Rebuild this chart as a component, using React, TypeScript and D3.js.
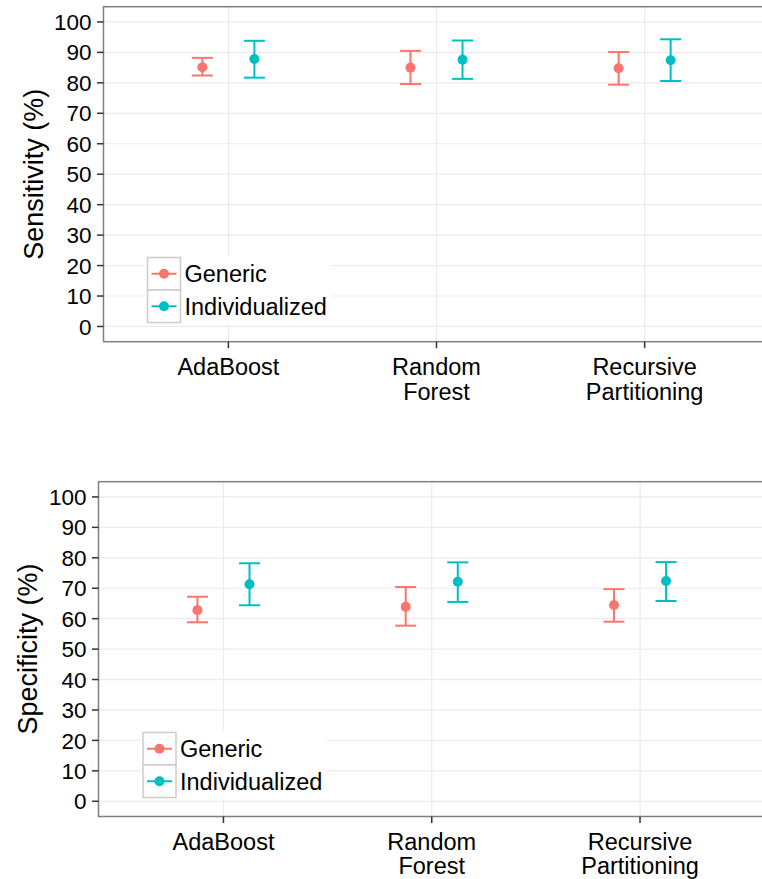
import React from "react";
import * as d3 from "d3";

// Classifiers compared on the x axis
const categories = ["AdaBoost", "Random Forest", "Recursive Partitioning"];
const categoryLines: string[][] = [["AdaBoost"], ["Random", "Forest"], ["Recursive", "Partitioning"]];
const groups = ["Generic", "Individualized"];
const groupColors = ["#F8766D", "#00BFC4"];
const yTicks = [0, 10, 20, 30, 40, 50, 60, 70, 80, 90, 100];

// Sensitivity (%): mean with lower / upper interval per classifier
const sensGenericMean = [85.1, 85.0, 84.8];
const sensGenericLow = [82.4, 79.6, 79.4];
const sensGenericHigh = [88.2, 90.5, 90.1];
const sensIndivMean = [87.8, 87.6, 87.4];
const sensIndivLow = [81.7, 81.3, 80.6];
const sensIndivHigh = [93.8, 93.9, 94.3];

// Specificity (%)
const specGenericMean = [62.8, 63.9, 64.5];
const specGenericLow = [58.8, 57.7, 59.0];
const specGenericHigh = [67.2, 70.4, 69.7];
const specIndivMean = [71.3, 72.1, 72.4];
const specIndivLow = [64.4, 65.5, 65.8];
const specIndivHigh = [78.2, 78.5, 78.6];

const FONT = "'Liberation Sans', Arial, Helvetica, sans-serif";

type Series = { mean: number[]; low: number[]; high: number[] };

interface PanelProps {
  left: number;
  right: number;
  top: number;
  bottom: number;
  title: string;
  titleX: number;
  legendX: number;
  legendY: number;
  series: Series[];
}

function Panel({ left, right, top, bottom, title, titleX, legendX, legendY, series }: PanelProps) {
  const x = d3.scalePoint<string>().domain(categories).range([left, right]).padding(0.6);
  const y = d3.scaleLinear().domain([-5, 105]).range([bottom, top]);
  const step = x.step();
  const dodge = d3.scaleBand<string>().domain(groups).range([-0.25 * step, 0.25 * step]);
  const capHalf = 10.5;
  const keyW = 33;
  const keyH = 32.5;

  return (
    <g>
      {/* panel grid */}
      {yTicks.map((t) => (
        <line key={"gy" + t} x1={left} x2={right} y1={y(t)} y2={y(t)} stroke="#EBEBEB" strokeWidth={1.2} />
      ))}
      {categories.map((c) => (
        <line key={"gx" + c} x1={x(c)} x2={x(c)} y1={top} y2={bottom} stroke="#EBEBEB" strokeWidth={1.2} />
      ))}

      {/* error bars and points */}
      {series.map((s, gi) =>
        categories.map((c, ci) => {
          const cx = (x(c) as number) + (dodge(groups[gi]) as number) + dodge.bandwidth() / 2;
          const col = groupColors[gi];
          return (
            <g key={gi + "-" + ci}>
              <line x1={cx} x2={cx} y1={y(s.low[ci])} y2={y(s.high[ci])} stroke={col} strokeWidth={2} />
              <line x1={cx - capHalf} x2={cx + capHalf} y1={y(s.low[ci])} y2={y(s.low[ci])} stroke={col} strokeWidth={2} />
              <line x1={cx - capHalf} x2={cx + capHalf} y1={y(s.high[ci])} y2={y(s.high[ci])} stroke={col} strokeWidth={2} />
              <circle cx={cx} cy={y(s.mean[ci])} r={5} fill={col} />
            </g>
          );
        })
      )}

      {/* legend */}
      <rect x={legendX - 2} y={legendY - 2} width={186} height={keyH * 2 + 4} fill="white" />
      {groups.map((g, gi) => {
        const ky = legendY + gi * keyH;
        return (
          <g key={"lg" + g}>
            <rect x={legendX} y={ky} width={keyW} height={keyH} fill="white" stroke="#CCCCCC" strokeWidth={1.5} />
            <line x1={legendX + 4} x2={legendX + keyW - 4} y1={ky + keyH / 2} y2={ky + keyH / 2} stroke={groupColors[gi]} strokeWidth={2} />
            <circle cx={legendX + keyW / 2} cy={ky + keyH / 2} r={5} fill={groupColors[gi]} />
            <text x={legendX + keyW + 4} y={ky + keyH / 2} dy="0.36em" fontSize={23.5} fontFamily={FONT} fill="black">
              {g}
            </text>
          </g>
        );
      })}

      {/* panel border */}
      <rect x={left} y={top} width={right - left} height={bottom - top} fill="none" stroke="#7F7F7F" strokeWidth={1.5} />

      {/* y axis */}
      {yTicks.map((t) => (
        <g key={"ty" + t}>
          <line x1={left - 6.5} x2={left} y1={y(t)} y2={y(t)} stroke="#333" strokeWidth={1.5} />
          <text x={left - 12} y={y(t)} dy="0.36em" textAnchor="end" fontSize={22.5} fontFamily={FONT} fill="black">
            {t}
          </text>
        </g>
      ))}
      <text
        transform={`translate(${titleX},${(top + bottom) / 2}) rotate(-90)`}
        textAnchor="middle"
        dy="0.36em"
        fontSize={27}
        fontFamily={FONT}
        fill="black"
      >
        {title}
      </text>

      {/* x axis */}
      {categories.map((c, ci) => (
        <g key={"tx" + c}>
          <line x1={x(c)} x2={x(c)} y1={bottom} y2={bottom + 6.5} stroke="#333" strokeWidth={1.5} />
          <text x={x(c)} y={bottom + 25} dy="0.36em" textAnchor="middle" fontSize={23.5} fontFamily={FONT} fill="black">
            {categoryLines[ci].map((ln, li) => (
              <tspan key={li} x={x(c)} dy={li === 0 ? "0.36em" : 24.5}>
                {ln}
              </tspan>
            ))}
          </text>
        </g>
      ))}
    </g>
  );
}

export default function App() {
  const sensSeries: Series[] = [
    { mean: sensGenericMean, low: sensGenericLow, high: sensGenericHigh },
    { mean: sensIndivMean, low: sensIndivLow, high: sensIndivHigh },
  ];
  const specSeries: Series[] = [
    { mean: specGenericMean, low: specGenericLow, high: specGenericHigh },
    { mean: specIndivMean, low: specIndivLow, high: specIndivHigh },
  ];
  return (
    <svg
      width={762}
      height={879}
      style={{ position: "absolute", left: 0, top: 0, background: "white" }}
      viewBox="0 0 762 879"
    >
      <rect x={0} y={0} width={762} height={879} fill="white" />
      <Panel
        left={103.5}
        right={769.5}
        top={6.7}
        bottom={341.7}
        title="Sensitivity (%)"
        titleX={33}
        legendX={147.5}
        legendY={257.5}
        series={sensSeries}
      />
      <Panel
        left={98.5}
        right={765}
        top={481.7}
        bottom={816.5}
        title="Specificity (%)"
        titleX={27}
        legendX={143}
        legendY={732.5}
        series={specSeries}
      />
    </svg>
  );
}
